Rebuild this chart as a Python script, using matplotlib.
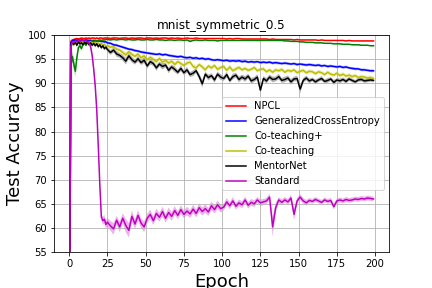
import numpy as np
import matplotlib
matplotlib.use("Agg")
import matplotlib.pyplot as plt

# epochs 0..24 every epoch, then every second epoch 25..199
epochs = list(range(0, 25)) + list(range(25, 200, 2))

npcl = [11.2, 98.7, 99.0, 99.1, 99.2, 99.3, 99.2, 99.3, 99.4, 99.3, 99.3, 99.4, 99.3,
        99.4, 99.3, 99.4, 99.4, 99.3, 99.4, 99.3, 99.4, 99.4, 99.3, 99.4, 99.4,
        99.4, 99.3, 99.4, 99.4, 99.3, 99.4, 99.4, 99.3, 99.4, 99.3, 99.4,
        99.4, 99.3, 99.4, 99.4, 99.3, 99.4, 99.3, 99.4, 99.4, 99.3, 99.4,
        99.3, 99.4, 99.3, 99.3, 99.4, 99.3, 99.3, 99.4, 99.3, 99.3, 99.3,
        99.3, 99.3, 99.3, 99.3, 99.3, 99.3, 99.2, 99.3, 99.2, 99.3, 99.3,
        99.2, 99.2, 99.2, 99.2, 99.2, 99.2, 99.2, 99.2, 99.2, 99.1, 99.2,
        99.1, 99.1, 99.1, 99.1, 99.1, 99.1, 99.0, 99.1, 99.0, 99.0, 99.0,
        99.0, 99.0, 99.0, 98.9, 99.0, 98.9, 98.9, 98.9, 98.9, 98.9, 98.9,
        98.9, 98.8, 98.9, 98.8, 98.8, 98.8, 98.8, 98.8, 98.8, 98.8, 98.8]
npcl_std = [0.5, 0.3, 0.2, 0.2, 0.2, 0.15, 0.2, 0.15, 0.2, 0.15, 0.2, 0.15, 0.2,
            0.15, 0.2, 0.15, 0.2, 0.15, 0.2, 0.15, 0.2, 0.15, 0.2, 0.15, 0.2,
            0.3, 0.15, 0.35, 0.1, 0.25, 0.15, 0.3, 0.1, 0.2, 0.3, 0.15,
            0.25, 0.1, 0.3, 0.15, 0.2, 0.1, 0.25, 0.15, 0.1, 0.2, 0.1,
            0.15, 0.1, 0.15, 0.1, 0.1, 0.15, 0.1, 0.1, 0.1, 0.1, 0.1,
            0.1, 0.1, 0.1, 0.1, 0.1, 0.1, 0.1, 0.1, 0.1, 0.1, 0.1,
            0.1, 0.1, 0.1, 0.1, 0.1, 0.1, 0.1, 0.1, 0.1, 0.1, 0.1,
            0.1, 0.1, 0.1, 0.1, 0.1, 0.1, 0.1, 0.1, 0.1, 0.1, 0.1,
            0.1, 0.1, 0.1, 0.1, 0.1, 0.1, 0.1, 0.1, 0.1, 0.1, 0.1,
            0.1, 0.1, 0.1, 0.1, 0.1, 0.1, 0.1, 0.1, 0.1, 0.1, 0.1]

gce = [11.0, 98.3, 98.8, 98.9, 99.0, 98.9, 99.0, 98.9, 99.0, 98.9, 98.9, 99.0, 98.9,
       98.9, 98.9, 98.8, 98.9, 98.8, 98.8, 98.8, 98.8, 98.7, 98.7, 98.6, 98.6,
       98.4, 98.3, 98.0, 97.9, 97.7, 97.5, 97.3, 97.1, 97.0, 96.8, 96.7,
       96.5, 96.4, 96.3, 96.2, 96.1, 96.0, 96.1, 95.9, 96.0, 95.8, 95.7,
       95.6, 95.5, 95.6, 95.4, 95.3, 95.4, 95.2, 95.3, 95.1, 95.2, 95.0,
       95.1, 94.9, 94.8, 94.9, 94.8, 94.7, 94.8, 94.6, 94.7, 94.6, 94.7,
       94.5, 94.6, 94.4, 94.5, 94.4, 94.5, 94.3, 94.4, 94.3, 94.4, 94.2,
       94.3, 94.2, 94.1, 94.2, 94.1, 94.0, 94.1, 93.9, 94.0, 93.9, 93.8,
       93.9, 93.8, 93.7, 93.8, 93.6, 93.7, 93.5, 93.6, 93.5, 93.4, 93.5,
       93.3, 93.4, 93.2, 93.1, 93.0, 93.0, 92.8, 92.8, 92.7, 92.6, 92.6]
gce_std = [0.5] * 1 + [0.3] * 24 + [0.3, 0.25, 0.3, 0.3, 0.25, 0.3, 0.3, 0.25, 0.3, 0.3, 0.25,
                                    0.3, 0.3, 0.25, 0.3, 0.3, 0.25, 0.3, 0.3, 0.25, 0.3, 0.3,
                                    0.3, 0.3, 0.25, 0.3, 0.3, 0.25, 0.3, 0.3, 0.25, 0.3, 0.3,
                                    0.3, 0.3, 0.25, 0.3, 0.3, 0.25, 0.3, 0.3, 0.25, 0.3, 0.3,
                                    0.3, 0.3, 0.25, 0.3, 0.3, 0.25, 0.3, 0.3, 0.25, 0.3, 0.3,
                                    0.3, 0.3, 0.25, 0.3, 0.3, 0.25, 0.3, 0.3, 0.25, 0.3, 0.3,
                                    0.3, 0.3, 0.25, 0.3, 0.3, 0.25, 0.3, 0.3, 0.25, 0.3, 0.3,
                                    0.3, 0.3, 0.25, 0.3, 0.3, 0.25, 0.3, 0.3, 0.25, 0.3, 0.3]

coteach_plus = [10.8, 93.5, 95.6, 94.0, 92.5, 95.3, 97.4, 97.8, 97.2, 98.1, 98.3, 97.9, 98.5,
                98.4, 98.7, 98.8, 98.7, 98.9, 98.8, 98.9, 99.0, 98.9, 99.0, 99.0, 99.1,
                99.1, 99.0, 99.1, 99.0, 99.1, 99.1, 99.0, 99.1, 99.0, 99.0, 99.1,
                99.0, 99.0, 99.1, 99.0, 99.0, 99.1, 99.0, 99.0, 98.9, 99.0, 99.0,
                98.9, 99.0, 99.0, 98.9, 99.0, 98.7, 98.9, 99.0, 98.9, 98.9, 99.0,
                98.9, 98.9, 98.9, 98.8, 98.9, 98.9, 98.9, 98.9, 98.9, 98.9, 98.9,
                98.9, 98.9, 98.9, 98.9, 98.9, 98.9, 98.9, 98.9, 98.9, 98.9, 98.9,
                98.9, 98.9, 98.9, 98.8, 98.8, 98.7, 98.7, 98.7, 98.6, 98.6, 98.5,
                98.5, 98.5, 98.4, 98.4, 98.4, 98.3, 98.3, 98.3, 98.2, 98.2, 98.2,
                98.1, 98.1, 98.1, 98.0, 98.0, 98.0, 97.9, 97.9, 97.9, 97.8, 97.8]
coteach_plus_std = [0.5, 1.0, 1.2, 1.3, 1.2, 1.0, 0.6, 0.4, 0.5, 0.3, 0.3, 0.3, 0.2,
                    0.2, 0.2, 0.15, 0.15, 0.15, 0.15, 0.1, 0.1, 0.1, 0.1, 0.1, 0.1,
                    0.1, 0.1, 0.1, 0.1, 0.1, 0.1, 0.1, 0.1, 0.1, 0.1, 0.1,
                    0.1, 0.1, 0.1, 0.1, 0.1, 0.1, 0.1, 0.1, 0.1, 0.1, 0.1,
                    0.1, 0.1, 0.1, 0.1, 0.1, 0.2, 0.1, 0.1, 0.1, 0.1, 0.1,
                    0.1, 0.1, 0.1, 0.1, 0.1, 0.1, 0.1, 0.1, 0.1, 0.1, 0.1,
                    0.1, 0.1, 0.1, 0.1, 0.1, 0.1, 0.1, 0.1, 0.1, 0.1, 0.1,
                    0.1, 0.1, 0.1, 0.1, 0.1, 0.1, 0.1, 0.1, 0.1, 0.1, 0.1,
                    0.1, 0.1, 0.1, 0.1, 0.1, 0.1, 0.1, 0.1, 0.1, 0.1, 0.1,
                    0.1, 0.1, 0.1, 0.1, 0.1, 0.1, 0.1, 0.1, 0.1, 0.1, 0.1]

coteach = [10.2, 97.4, 98.3, 98.0, 98.6, 98.2, 98.5, 98.7, 98.3, 98.6, 98.4, 98.7, 98.5,
           98.3, 98.6, 98.4, 98.2, 98.5, 98.1, 98.4, 98.0, 98.3, 97.9, 98.1, 97.7,
           97.8, 97.5, 97.6, 97.1, 96.9, 96.4, 95.9, 96.6, 96.0, 95.6, 96.1,
           95.3, 95.7, 94.9, 95.4, 95.0, 94.5, 95.2, 94.4, 94.8, 94.2, 94.6,
           93.9, 94.5, 94.1, 93.7, 94.2, 94.4, 93.5, 93.2, 93.9, 93.4, 92.8,
           93.6, 93.2, 93.7, 92.9, 93.3, 93.5, 92.7, 93.4, 92.6, 93.0, 93.3,
           92.8, 93.1, 92.7, 92.9, 93.3, 92.6, 92.9, 93.0, 92.4, 92.8, 92.3,
           92.8, 92.6, 92.9, 92.3, 92.7, 92.5, 92.8, 92.2, 92.5, 92.7, 92.2,
           92.5, 92.4, 92.0, 92.4, 92.2, 91.8, 92.3, 91.9, 91.7, 92.1, 91.6,
           91.9, 91.5, 91.7, 91.4, 91.6, 91.2, 91.4, 91.3, 91.1, 91.2, 91.0]
coteach_std = [0.5, 0.6, 0.4, 0.4, 0.3, 0.3, 0.3, 0.3, 0.3, 0.3, 0.3, 0.3, 0.3,
               0.3, 0.3, 0.3, 0.3, 0.3, 0.3, 0.3, 0.3, 0.3, 0.3, 0.3, 0.3,
               0.3, 0.4, 0.3, 0.4, 0.4, 0.5, 0.5, 0.4, 0.5, 0.4, 0.5,
               0.4, 0.5, 0.4, 0.5, 0.4, 0.5, 0.4, 0.5, 0.4, 0.5, 0.4,
               0.5, 0.4, 0.5, 0.4, 0.5, 0.4, 0.5, 0.5, 0.4, 0.5, 0.5,
               0.4, 0.5, 0.4, 0.5, 0.4, 0.5, 0.4, 0.5, 0.4, 0.5, 0.4,
               0.4, 0.4, 0.4, 0.4, 0.4, 0.4, 0.4, 0.4, 0.4, 0.4, 0.4,
               0.4, 0.4, 0.4, 0.4, 0.4, 0.4, 0.4, 0.4, 0.4, 0.4, 0.4,
               0.4, 0.4, 0.4, 0.4, 0.4, 0.4, 0.4, 0.4, 0.4, 0.4, 0.4,
               0.4, 0.4, 0.4, 0.4, 0.4, 0.4, 0.4, 0.4, 0.4, 0.4, 0.4]

mentornet = [10.0, 97.8, 98.4, 98.1, 98.5, 97.9, 98.6, 98.2, 98.4, 98.0, 98.5, 98.2, 98.6,
             98.0, 98.4, 97.9, 98.3, 97.8, 98.2, 97.6, 98.0, 97.4, 97.8, 97.2, 97.5,
             97.0, 96.4, 96.9, 96.1, 95.8, 95.3, 94.6, 95.7, 94.9, 94.4, 95.1,
             94.3, 94.8, 93.6, 94.5, 94.1, 93.2, 94.0, 93.5, 93.8, 92.7, 93.4,
             92.9, 92.3, 93.1, 92.2, 92.8, 91.8, 92.1, 92.6, 91.4, 89.9, 91.9,
             91.2, 91.6, 90.7, 91.9, 91.3, 91.0, 91.8, 90.6, 91.4, 91.7, 90.8,
             91.3, 90.9, 91.5, 90.5, 90.8, 91.3, 88.6, 91.0, 90.5, 91.3, 90.8,
             90.9, 91.4, 90.6, 90.8, 91.1, 90.3, 90.9, 91.0, 88.8, 90.6, 91.1,
             90.5, 90.8, 90.3, 90.7, 91.0, 90.4, 90.6, 90.9, 90.2, 90.7, 90.5,
             90.8, 90.4, 90.9, 90.6, 90.3, 90.7, 90.8, 90.5, 90.6, 90.7, 90.6]
mentornet_std = [0.5, 0.5, 0.4, 0.4, 0.3, 0.4, 0.3, 0.4, 0.3, 0.4, 0.3, 0.4, 0.3,
                 0.4, 0.3, 0.4, 0.3, 0.4, 0.3, 0.4, 0.3, 0.4, 0.4, 0.4, 0.4,
                 0.5, 0.5, 0.5, 0.6, 0.5, 0.6, 0.7, 0.6, 0.6, 0.5, 0.6,
                 0.5, 0.6, 0.5, 0.6, 0.5, 0.6, 0.5, 0.6, 0.5, 0.6, 0.5,
                 0.6, 0.5, 0.6, 0.5, 0.6, 0.5, 0.6, 0.5, 0.6, 0.8, 0.5,
                 0.6, 0.5, 0.6, 0.5, 0.6, 0.5, 0.6, 0.5, 0.6, 0.5, 0.6,
                 0.5, 0.6, 0.5, 0.6, 0.5, 0.6, 0.8, 0.5, 0.6, 0.5, 0.6,
                 0.5, 0.6, 0.5, 0.6, 0.5, 0.6, 0.5, 0.6, 0.9, 0.5, 0.5,
                 0.5, 0.4, 0.5, 0.4, 0.5, 0.4, 0.5, 0.4, 0.5, 0.4, 0.5,
                 0.4, 0.5, 0.4, 0.4, 0.4, 0.4, 0.4, 0.4, 0.4, 0.4, 0.4]

standard = [10.0, 97.5, 98.6, 98.5, 98.8, 98.6, 98.9, 98.7, 98.8, 98.9, 98.7, 98.8, 98.6,
            98.4, 97.6, 95.8, 93.0, 89.5, 84.5, 77.0, 69.0, 62.3, 61.5, 61.8, 60.7,
            61.2, 60.4, 59.8, 61.6, 60.2, 62.0, 60.5, 59.5, 62.4, 60.8, 62.6,
            61.0, 60.2, 62.0, 62.8, 61.5, 63.0, 62.2, 63.4, 62.0, 63.2, 62.4,
            63.6, 62.6, 63.8, 62.8, 63.5, 62.9, 63.9, 63.0, 64.2, 63.4, 64.0,
            63.3, 64.6, 63.8, 64.8, 64.0, 64.3, 65.4, 64.6, 65.6, 64.5, 65.2,
            64.8, 65.8, 64.7, 65.3, 65.0, 65.8, 65.2, 65.4, 65.6, 66.4, 60.2,
            64.2, 65.8, 65.3, 65.8, 65.4, 66.2, 62.8, 65.6, 66.4, 65.6, 65.2,
            65.7, 65.5, 65.9, 65.6, 65.3, 65.8, 65.5, 65.7, 64.4, 65.6, 65.8,
            65.6, 65.9, 65.7, 65.8, 66.0, 65.9, 66.1, 66.0, 66.2, 66.1, 66.0]
standard_std = [0.5, 0.4, 0.3, 0.3, 0.3, 0.3, 0.3, 0.3, 0.3, 0.3, 0.3, 0.3, 0.3,
                0.4, 0.6, 0.8, 1.0, 1.2, 1.2, 1.2, 1.0, 0.8, 0.8, 0.9, 0.8,
                0.9, 1.0, 1.2, 0.9, 1.1, 1.0, 1.4, 1.5, 1.2, 1.0, 1.1,
                1.0, 1.1, 0.9, 1.0, 0.9, 1.0, 0.9, 1.0, 0.9, 1.0, 0.9,
                0.9, 0.8, 0.9, 0.8, 0.9, 0.8, 0.9, 0.8, 0.9, 0.8, 0.9,
                0.8, 0.9, 0.8, 0.9, 0.8, 0.7, 0.8, 0.7, 0.8, 0.7, 0.7,
                0.7, 0.7, 0.7, 0.7, 0.7, 0.6, 0.7, 0.6, 0.6, 0.7, 2.0,
                1.0, 0.6, 0.6, 0.6, 0.6, 0.7, 1.2, 0.6, 0.6, 0.6, 0.6,
                0.5, 0.5, 0.5, 0.5, 0.5, 0.5, 0.5, 0.5, 0.6, 0.5, 0.5,
                0.5, 0.5, 0.5, 0.5, 0.5, 0.5, 0.5, 0.5, 0.5, 0.5, 0.5]

names = ["NPCL", "GeneralizedCrossEntropy", "Co-teaching+", "Co-teaching", "MentorNet", "Standard"]
colours = ["r", "b", "g", "y", "k", "m"]
means = [npcl, gce, coteach_plus, coteach, mentornet, standard]
stds = [npcl_std, gce_std, coteach_plus_std, coteach_std, mentornet_std, standard_std]

fig = plt.figure(figsize=(6, 4), dpi=72)
ax = fig.add_axes([0.125, 0.125, 0.775, 0.753])

x = np.array(epochs)
for name, c, m, s in zip(names, colours, means, stds):
    m = np.array(m)
    s = np.array(s)
    ax.plot(x, m, c, label=name)
    ax.fill_between(x, m - s, m + s, color=c, alpha=0.3, linewidth=0)

ax.set_ylim(55, 100)
ax.set_xticks([0, 25, 50, 75, 100, 125, 150, 175, 200])
ax.grid(True)
ax.set_title("mnist_symmetric_0.5", fontsize=12)
ax.set_xlabel("Epoch", fontsize=18)
ax.set_ylabel("Test Accuracy", fontsize=18)
ax.legend(loc="center right", fontsize=10)

fig.savefig("out.png", dpi=72)
